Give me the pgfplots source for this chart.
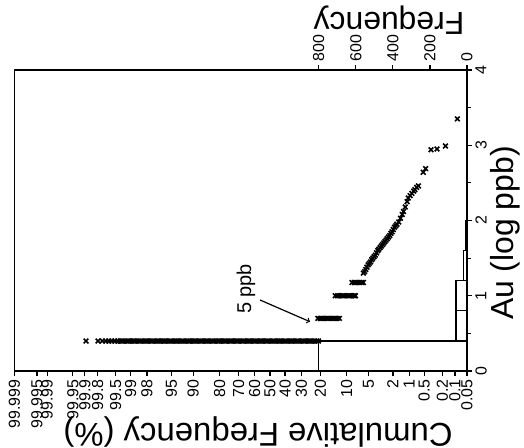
\documentclass[border=0pt]{standalone}
\usepackage{fontspec}
\setmainfont{Liberation Sans}
\usepackage{pgfplots}
\pgfplotsset{compat=1.18}
\begin{document}
\begin{tikzpicture}
\pgfplotsset{
  base/.style={
    scale only axis, width=452.5bp, height=301bp,
    ymin=0, ymax=4,
    axis line style={line width=1.4bp},
    every tick/.style={black, line width=1.2bp},
    major tick length=5bp, minor tick length=4bp,
    tick align=outside,
    /pgf/number format/assume math mode=true,
    tick label style={font=\fontsize{16}{17}\selectfont},
  }
}
\begin{axis}[base,
  xmin=-4.2649, xmax=3.2905,
  xtick={-4.2649,-3.8906,-3.7190,-3.2905,-3.0902,-2.8782,-2.5758,-2.3263,-2.0537,-1.6449,-1.2816,-0.8416,-0.5244,-0.2533,0,0.2533,0.5244,0.8416,1.2816,1.6449,2.0537,2.3263,2.5758,2.8782,3.0902,3.2905},
  xticklabels={99.999,99.995,99.99,99.95,99.9,99.8,99.5,99,98,95,90,80,70,60,50,40,30,20,10,5,2,1,0.5,0.2,0.1,0.05},
  xtick pos=left, xticklabel pos=left,
  xticklabel style={rotate=90, anchor=east},
  ytick={0,1,2,3,4}, minor y tick num=1,
  ytick pos=right, yticklabel pos=right,
  yticklabel style={rotate=90, anchor=north},
]
\addplot[only marks, mark=x, mark size=3.3bp, line width=1.6bp, black] coordinates {
(-3.07,0.398)(-2.87,0.398)(-2.80,0.398)(-2.74,0.398)(-2.69,0.398)(-2.64,0.398)(-2.59,0.398)(-2.54,0.398)
(-2.50,0.398)(-2.46,0.398)(-2.42,0.398)(-2.38,0.398)(-2.34,0.398)(-2.30,0.398)(-2.26,0.398)(-2.22,0.398)
(-2.18,0.398)(-2.14,0.398)(-2.10,0.398)(-2.06,0.398)(-2.02,0.398)(-1.98,0.398)(-1.94,0.398)(-1.90,0.398)
(-1.86,0.398)(-1.82,0.398)(-1.78,0.398)(-1.74,0.398)(-1.70,0.398)(-1.66,0.398)(-1.62,0.398)(-1.58,0.398)
(-1.54,0.398)(-1.50,0.398)(-1.46,0.398)(-1.42,0.398)(-1.38,0.398)(-1.34,0.398)(-1.30,0.398)(-1.26,0.398)
(-1.22,0.398)(-1.18,0.398)(-1.14,0.398)(-1.10,0.398)(-1.06,0.398)(-1.02,0.398)(-0.98,0.398)(-0.94,0.398)
(-0.90,0.398)(-0.86,0.398)(-0.82,0.398)(-0.78,0.398)(-0.74,0.398)(-0.70,0.398)(-0.66,0.398)(-0.62,0.398)
(-0.58,0.398)(-0.54,0.398)(-0.50,0.398)(-0.46,0.398)(-0.42,0.398)(-0.38,0.398)(-0.34,0.398)(-0.30,0.398)
(-0.26,0.398)(-0.22,0.398)(-0.18,0.398)(-0.14,0.398)(-0.10,0.398)(-0.06,0.398)(-0.02,0.398)(0.02,0.398)
(0.06,0.398)(0.10,0.398)(0.14,0.398)(0.18,0.398)(0.22,0.398)(0.26,0.398)(0.30,0.398)(0.34,0.398)
(0.38,0.398)(0.42,0.398)(0.46,0.398)(0.50,0.398)(0.54,0.398)(0.58,0.398)(0.62,0.398)(0.66,0.398)
(0.70,0.398)(0.74,0.398)(0.78,0.398)(0.81,0.398)
(0.80,0.699)(0.84,0.699)(0.88,0.699)(0.92,0.699)(0.96,0.699)(1.00,0.699)(1.04,0.699)(1.08,0.699)(1.12,0.699)(1.16,0.699)
(1.09,1.0)(1.13,1.0)(1.17,1.0)(1.21,1.0)(1.25,1.0)(1.29,1.0)(1.33,1.0)(1.37,1.0)(1.41,1.0)(1.43,1.0)
(1.37,1.176)(1.41,1.176)(1.45,1.176)(1.49,1.176)(1.53,1.176)(1.56,1.176)
(1.56,1.30)(1.58,1.32)(1.60,1.35)(1.62,1.38)(1.64,1.41)(1.66,1.43)(1.68,1.45)(1.70,1.48)
(1.72,1.50)(1.74,1.52)(1.76,1.54)(1.78,1.57)(1.80,1.60)(1.82,1.62)(1.84,1.64)(1.86,1.66)
(1.88,1.68)(1.90,1.70)(1.92,1.72)(1.94,1.74)(1.96,1.76)(1.98,1.78)(2.00,1.80)(2.02,1.83)
(2.04,1.85)(2.06,1.88)(2.08,1.91)(2.10,1.93)(2.12,1.95)(2.15,1.98)(2.18,2.03)(2.21,2.08)
(2.23,2.12)(2.26,2.18)(2.29,2.25)(2.31,2.30)(2.34,2.33)(2.37,2.36)(2.40,2.39)(2.42,2.41)
(2.45,2.44)(2.48,2.46)(2.56,2.64)(2.60,2.69)(2.69,2.94)(2.79,2.95)(2.93,2.99)(3.13,3.35)
};
\coordinate (sw) at (rel axis cs:0,0);
\coordinate (ne) at (rel axis cs:1,1);
\end{axis}
\begin{axis}[base,
  x dir=reverse, xmin=0, xmax=2441,
  xtick={0,200,400,600,800},
  xtick pos=right, xticklabel pos=right,
  xticklabel style={rotate=90, anchor=west},
  ytick=\empty,
]
\addplot[black, mark=none, line width=1.2bp] coordinates {(803,0)(803,0.4)(0,0.4)};
\addplot[black, mark=none, line width=1.2bp] coordinates {(0,0.4)(59,0.4)(59,0.8)(0,0.8)};
\addplot[black, mark=none, line width=1.2bp] coordinates {(59,0.8)(59,1.2)(0,1.2)};
\addplot[black, mark=none, line width=1.2bp] coordinates {(18,1.2)(18,1.6)(0,1.6)};
\addplot[black, mark=none, line width=1.2bp] coordinates {(9,1.6)(9,2.0)(0,2.0)};
\end{axis}
\node[rotate=180, font=\fontsize{33}{38}\selectfont] at ([shift={(243.5bp,-61bp)}]sw) {Cumulative Frequency (\%)};
\node[rotate=180, font=\fontsize{32}{38}\selectfont] at ([shift={(-78bp,50bp)}]ne) {Frequency};
\node[rotate=90, font=\fontsize{32}{38}\selectfont] at ([shift={(38bp,-163bp)}]ne) {Au (log ppb)};
\node[rotate=90, font=\fontsize{20}{24}\selectfont] at ([shift={(231.5bp,82bp)}]sw) {5 ppb};
\draw[line width=1.2bp, ->] ([shift={(245.5bp,71bp)}]sw) -- ([shift={(295.5bp,49.3bp)}]sw);
\pgfresetboundingbox
\path[use as bounding box] ([shift={(-14.5bp,-77bp)}]sw) rectangle ([shift={(57bp,70bp)}]ne);
\end{tikzpicture}
\end{document}
